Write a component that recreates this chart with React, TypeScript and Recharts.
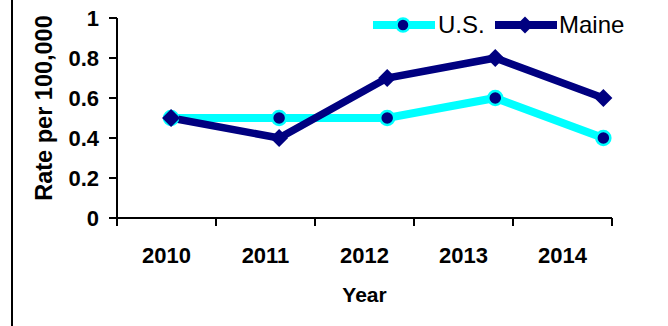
import type { JSX } from 'react';
import { LineChart, Line, XAxis, YAxis, Legend } from 'recharts';

const years = ['2010', '2011', '2012', '2013', '2014'];
const usRate = [0.5, 0.5, 0.5, 0.6, 0.4];
const maineRate = [0.5, 0.4, 0.7, 0.8, 0.6];
const rateTicks = [0, 0.2, 0.4, 0.6, 0.8, 1];

const CYAN = '#00FFFF';
const NAVY = '#000080';
const FONT = '"Liberation Sans", Arial, Helvetica, sans-serif';

const data = years.map((year, i) => ({
    year,
    idx: i,
    band: i + 0.5,
    us: usRate[i],
    maine: maineRate[i],
}));

// tick marks sit on the category boundaries, labels in the middle of each band
const edgeTicks = years.map((_, i) => i).concat(years.length);
const bandTicks = years.map((_, i) => i + 0.5);

const Diamond = ({ cx, cy, size = 9 }: { cx?: number; cy?: number; size?: number }): JSX.Element | null => {
    if (cx == null || cy == null) {
        return null;
    }
    const d = `M${cx},${cy - size}L${cx + size},${cy}L${cx},${cy + size}L${cx - size},${cy}Z`;
    return <path d={d} fill={NAVY} stroke="none" />;
};

const renderDiamondDot = (props: { cx?: number; cy?: number; index?: number }): JSX.Element => (
    <Diamond key={`d-${props.index}`} cx={props.cx} cy={props.cy} />
);

const ChartLegend = (): JSX.Element => (
    <svg width={300} height={40} style={{ display: 'block' }}>
        <line x1={5} y1={20} x2={67} y2={20} stroke={CYAN} strokeWidth={8} />
        <circle cx={35} cy={20} r={6.5} fill={NAVY} stroke={CYAN} strokeWidth={2.5} />
        <text x={70} y={28} fontFamily={FONT} fontSize={24} fill="#000">U.S.</text>
        <line x1={127} y1={20} x2={189} y2={20} stroke={NAVY} strokeWidth={8} />
        <Diamond cx={157} cy={20} size={8.5} />
        <text x={191} y={28} fontFamily={FONT} fontSize={24} fill="#000">Maine</text>
    </svg>
);

const tickStyle = { fontFamily: FONT, fontSize: 22, fontWeight: 'bold', fill: '#000' };

export default function App(): JSX.Element {
    return (
        <div style={{ position: 'absolute', left: 0, top: 0, width: 668, height: 326, background: '#fff' }}>
            <div style={{ position: 'absolute', left: 11, top: 0, width: 2, height: 326, background: '#000' }} />
            <LineChart width={668} height={326} data={data} margin={{ top: 18, right: 56, bottom: 60, left: 0 }}>
                <XAxis
                    xAxisId="edge"
                    type="number"
                    dataKey="band"
                    domain={[0, years.length]}
                    ticks={edgeTicks}
                    tickFormatter={() => ''}
                    tickSize={8}
                    height={8}
                    axisLine={{ stroke: '#000', strokeWidth: 2 }}
                    tickLine={{ stroke: '#000', strokeWidth: 2 }}
                />
                <XAxis
                    xAxisId="label"
                    type="number"
                    dataKey="band"
                    domain={[0, years.length]}
                    ticks={bandTicks}
                    tickFormatter={(v: number) => years[Math.floor(v)]}
                    axisLine={false}
                    tickLine={false}
                    tickSize={0}
                    tickMargin={21}
                    height={40}
                    tick={tickStyle}
                    label={{
                        value: 'Year',
                        position: 'bottom',
                        offset: 21,
                        style: { fontFamily: FONT, fontSize: 21, fontWeight: 'bold', fill: '#000' },
                    }}
                />
                <XAxis xAxisId="point" type="number" dataKey="idx" domain={[-0.5, 4.08]} height={0} hide />
                <YAxis
                    type="number"
                    domain={[0, 1]}
                    ticks={rateTicks}
                    width={117}
                    tickSize={8}
                    tickMargin={10}
                    tick={tickStyle}
                    axisLine={{ stroke: '#000', strokeWidth: 2 }}
                    tickLine={{ stroke: '#000', strokeWidth: 2 }}
                    label={{
                        value: 'Rate per 100,000',
                        angle: -90,
                        position: 'insideLeft',
                        offset: 44,
                        dy: -10,
                        style: { textAnchor: 'middle', fontFamily: FONT, fontSize: 23.5, fontWeight: 'bold', fill: '#000' },
                    }}
                />
                <Legend
                    verticalAlign="middle"
                    align="center"
                    content={<ChartLegend />}
                    wrapperStyle={{ position: 'absolute', left: 368, top: 5, width: 300, height: 40 }}
                />
                <Line
                    xAxisId="point"
                    dataKey="us"
                    name="U.S."
                    stroke={CYAN}
                    strokeWidth={8}
                    dot={{ r: 7, fill: NAVY, stroke: CYAN, strokeWidth: 2.5 }}
                    activeDot={false}
                    isAnimationActive={false}
                />
                <Line
                    xAxisId="point"
                    dataKey="maine"
                    name="Maine"
                    stroke={NAVY}
                    strokeWidth={7.5}
                    dot={renderDiamondDot}
                    activeDot={false}
                    isAnimationActive={false}
                />
            </LineChart>
        </div>
    );
}
